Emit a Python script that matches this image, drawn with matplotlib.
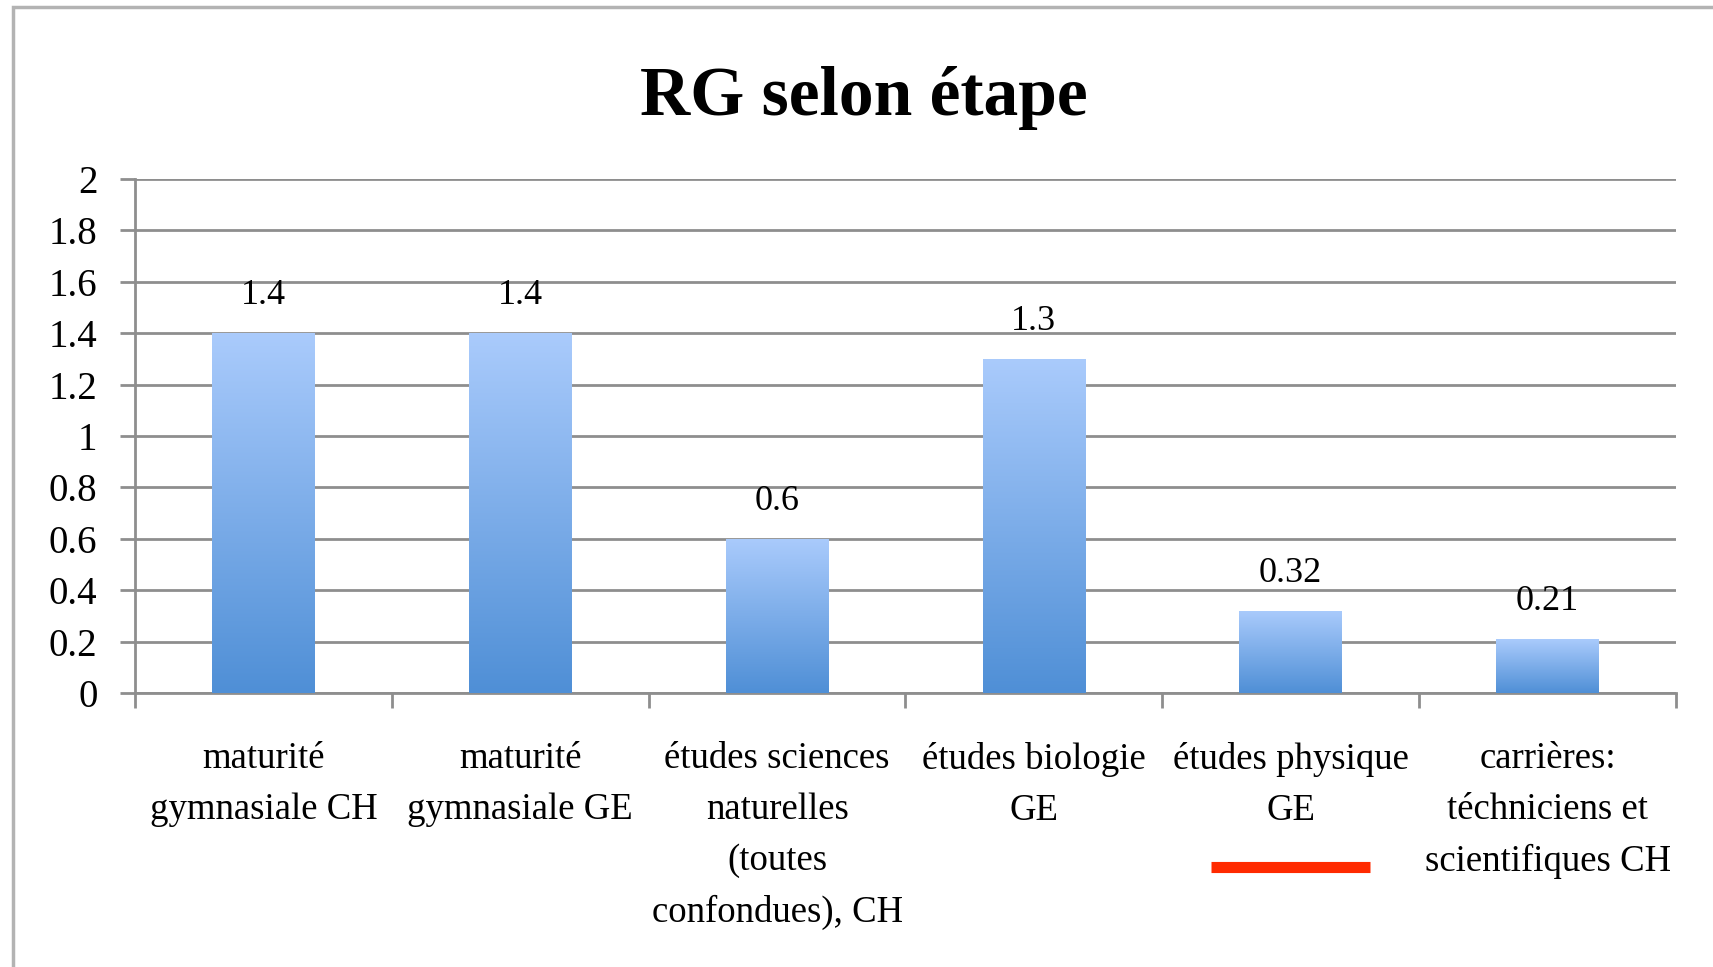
import numpy as np
import matplotlib
matplotlib.use('Agg')
import matplotlib.pyplot as plt
from matplotlib.patches import Rectangle
from matplotlib.colors import LinearSegmentedColormap
import matplotlib.transforms as mtransforms

plt.rcParams['font.family'] = ['Liberation Serif', 'DejaVu Serif']

categories = ['maturité\ngymnasiale CH', 'maturité\ngymnasiale GE',
              'études sciences\nnaturelles\n(toutes\nconfondues), CH',
              'études biologie\nGE', 'études physique\nGE',
              'carrières:\ntéchniciens et\nscientifiques CH']
values = [1.4, 1.4, 0.6, 1.3, 0.32, 0.21]
value_labels = ['1.4', '1.4', '0.6', '1.3', '0.32', '0.21']
yticks = [0, 0.2, 0.4, 0.6, 0.8, 1, 1.2, 1.4, 1.6, 1.8, 2]
ytick_labels = ['0', '0.2', '0.4', '0.6', '0.8', '1', '1.2', '1.4', '1.6', '1.8', '2']
highlight = 4  # category underlined in red

fig = plt.figure(figsize=(17.13, 9.67), dpi=100)
ax = fig.add_axes([0.0788, 0.2833, 0.8996, 0.5316])

grid_c = '#8e8e8e'
x = np.arange(len(categories))
bars = ax.bar(x, values, width=0.40, color='none', edgecolor='none', zorder=3)

# vertical gradient fill of each bar
cmap = LinearSegmentedColormap.from_list('bl', ['#4f8fd6', '#aacbfc'])
grad = np.linspace(0, 1, 256).reshape(-1, 1)
for b in bars:
    x0, w, h = b.get_x(), b.get_width(), b.get_height()
    im = ax.imshow(grad, cmap=cmap, origin='lower', aspect='auto',
                   extent=[x0, x0 + w, 0, h], zorder=3)
    im.set_clip_path(b)

for xi, v, lab in zip(x, values, value_labels):
    ax.annotate(lab, (xi, v), xytext=(0, 15), textcoords='offset points',
                ha='center', va='bottom', fontsize=26)

ax.set_xlim(-0.5, len(categories) - 0.5)
ax.set_ylim(0, 2)
ax.set_yticks(yticks)
ax.set_yticklabels(ytick_labels, fontsize=28)
ax.yaxis.grid(True, color=grid_c, linewidth=2)
ax.set_axisbelow(True)

ax.set_xticks(np.arange(-0.5, len(categories), 1.0))
ax.set_xticklabels([])
ax.set_xticks(x, minor=True)
ax.set_xticklabels(categories, minor=True, fontsize=26.5, linespacing=1.62)
ax.tick_params(axis='x', which='minor', length=0, pad=35)
ax.tick_params(axis='x', which='major', length=11, width=2, color=grid_c)
ax.tick_params(axis='y', length=11, width=2, color=grid_c, pad=16)

for s in ['top', 'right']:
    ax.spines[s].set_visible(False)
for s in ['left', 'bottom']:
    ax.spines[s].set_color(grid_c)
    ax.spines[s].set_linewidth(2)

# red underline under one category
trans = mtransforms.blended_transform_factory(ax.transData, ax.transAxes)
ax.plot([highlight - 0.31, highlight + 0.31], [-0.339, -0.339], color='#ff2a00',
        linewidth=8, solid_capstyle='butt', transform=trans, clip_on=False)

fig.text(0.504, 0.899, 'RG selon étape', ha='center', va='center',
         fontsize=50, fontweight='bold')

# outer chart border
fig.add_artist(Rectangle((13 / 1713, -0.1), 1.2, 1.1 - 7 / 967, transform=fig.transFigure,
                         fill=False, edgecolor='#b3b3b3', linewidth=2.5))

fig.savefig('out.png', dpi=100)
